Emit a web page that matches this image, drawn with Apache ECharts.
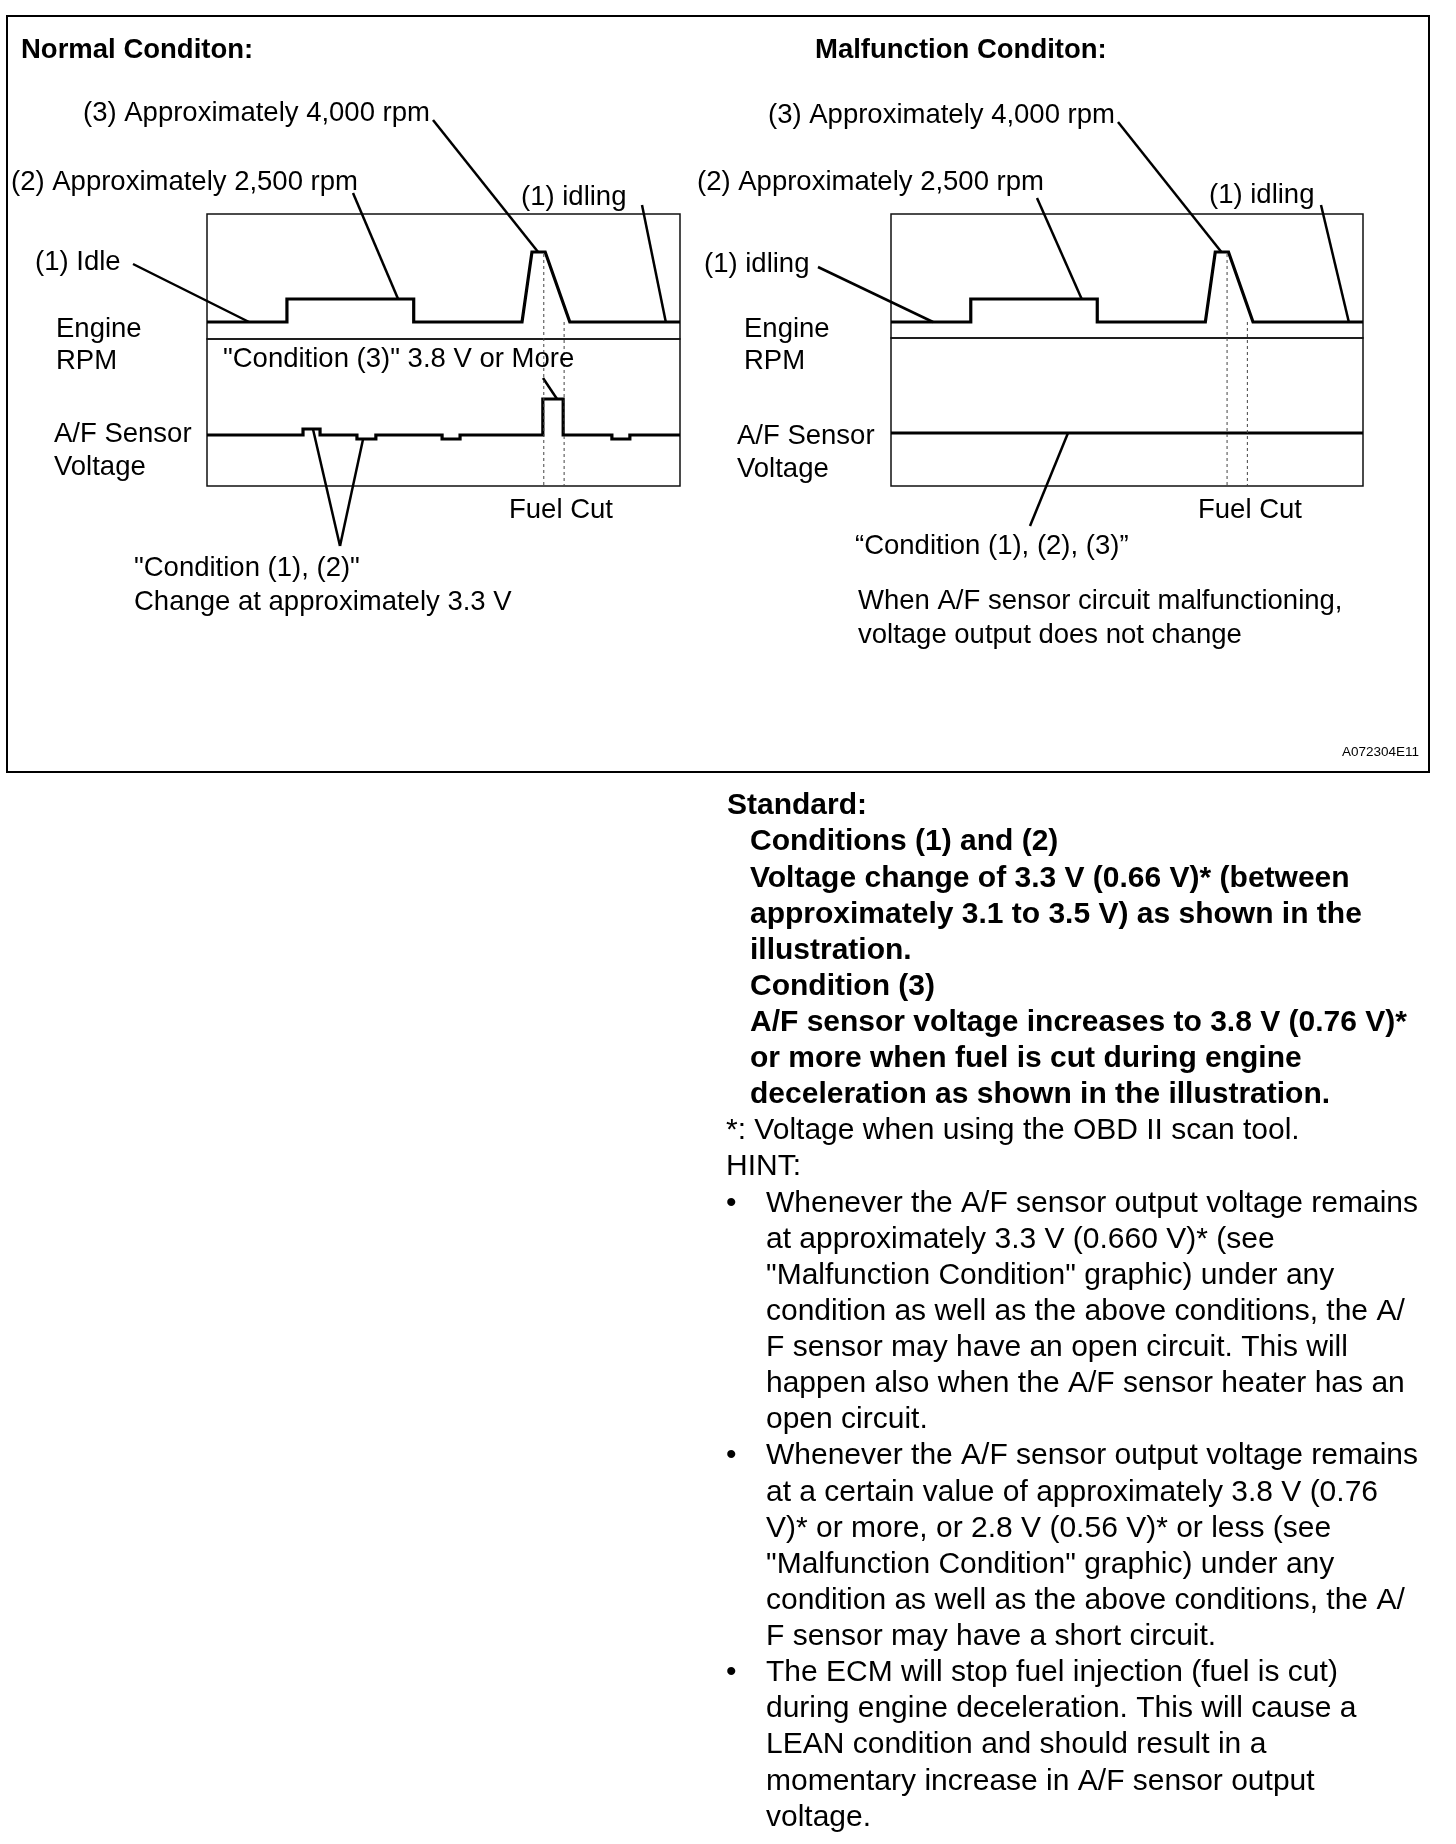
<!DOCTYPE html>
<html>
<head>
<meta charset="utf-8">
<title>A/F Sensor Voltage - Normal / Malfunction</title>
<script src="https://cdn.jsdelivr.net/npm/echarts@6/dist/echarts.min.js"></script>
<style>
html, body { margin: 0; padding: 0; background: #fff; }
#chart { width: 1456px; height: 1844px; }
</style>
</head>
<body>
<div id="chart"></div>
<script>
// time runs 0..100 across each box, levels are the schematic heights as drawn
const rpmTrace = [[0, 0], [16.9, 0], [16.9, 23], [43.7, 23], [43.7, 0], [66.6, 0],
  [68.7, 70], [71.5, 70], [76.7, 0], [100, 0]]
const afNormal = [[0, 0], [20.3, 0], [20.3, 6], [23.9, 6], [23.9, 0], [31.7, 0], [31.7, -4],
  [35.7, -4], [35.7, 0], [49.7, 0], [49.7, -4], [53.5, -4], [53.5, 0], [71.0, 0], [71.0, 36],
  [75.3, 36], [75.3, 0], [85.6, 0], [85.6, -4], [89.4, -4], [89.4, 0], [100, 0]]
const afMalfunction = [[0, 0], [100, 0]]
const fuelCutTimes = [71.2, 75.5]
// points on the traces that the callouts point at
const rpmPeak = [70, 70]
const rpm2500 = [40.4, 23]
const idleStart = [8.9, 0]
const idleEnd = [97, 0]
const afCutPeak = [74, 36]
const afBump = [22.4, 6]
const afDip = [33, -4]
const afFlat = [37.5, 0]

const hint1 = ['Whenever the A/F sensor output voltage remains',
  'at approximately 3.3 V (0.660 V)* (see',
  '"Malfunction Condition" graphic) under any',
  'condition as well as the above conditions, the A/',
  'F sensor may have an open circuit. This will',
  'happen also when the A/F sensor heater has an',
  'open circuit.']
const hint2 = ['Whenever the A/F sensor output voltage remains',
  'at a certain value of approximately 3.8 V (0.76',
  'V)* or more, or 2.8 V (0.56 V)* or less (see',
  '"Malfunction Condition" graphic) under any',
  'condition as well as the above conditions, the A/',
  'F sensor may have a short circuit.']
const hint3 = ['The ECM will stop fuel injection (fuel is cut)',
  'during engine deceleration. This will cause a',
  'LEAN condition and should result in a',
  'momentary increase in A/F sensor output',
  'voltage.']
const standardLines = ['Conditions (1) and (2)',
  'Voltage change of 3.3 V (0.66 V)* (between',
  'approximately 3.1 to 3.5 V) as shown in the',
  'illustration.',
  'Condition (3)',
  'A/F sensor voltage increases to 3.8 V (0.76 V)*',
  'or more when fuel is cut during engine',
  'deceleration as shown in the illustration.']

const FONT = "'Liberation Sans', Arial, Helvetica, sans-serif"
const chart = echarts.init(document.getElementById('chart'))

function grid(left, top, width, height) {
  return { left, top, width, height, show: true, borderColor: '#111', borderWidth: 1.5, backgroundColor: 'transparent' }
}
function xAx(i) {
  return { type: 'value', gridIndex: i, min: 0, max: 100, show: false }
}
function yAx(i, min, max) {
  return { type: 'value', gridIndex: i, min, max, show: false, splitLine: { show: false } }
}
function trace(i, data) {
  return {
    type: 'line', xAxisIndex: i, yAxisIndex: i, data, symbol: 'none', silent: true,
    lineStyle: { color: '#000', width: 3.2, join: 'miter' }, animation: false
  }
}

chart.setOption({
  animation: false,
  backgroundColor: '#fff',
  grid: [grid(207, 214, 473, 125), grid(207, 339, 473, 147), grid(891, 214, 472, 124), grid(891, 338, 472, 148)],
  xAxis: [xAx(0), xAx(1), xAx(2), xAx(3)],
  yAxis: [yAx(0, -17, 108), yAx(1, -51, 96), yAx(2, -16, 108), yAx(3, -53, 95)],
  series: [trace(0, rpmTrace), trace(1, afNormal), trace(2, rpmTrace), trace(3, afMalfunction)]
})

const px = (g, p) => chart.convertToPixel({ gridIndex: g }, p)

function txt(s, x, y, size, bold, align) {
  const f = (bold ? 'bold ' : '') + size + 'px ' + FONT
  return {
    type: 'text', x, y, silent: true, z: 10,
    style: { text: s, font: f, fill: '#000', textAlign: align || 'left', align: align || 'left', textVerticalAlign: 'middle', verticalAlign: 'middle' }
  }
}
function seg(a, b, w, dash, color) {
  return {
    type: 'line', silent: true, z: 9,
    shape: { x1: a[0], y1: a[1], x2: b[0], y2: b[1] },
    style: { stroke: color || '#000', lineWidth: w, lineDash: dash || null }
  }
}

const g = []
// outer frame
g.push({ type: 'rect', silent: true, z: 1, shape: { x: 7, y: 16, width: 1422, height: 756 },
  style: { fill: 'none', stroke: '#000', lineWidth: 2 } })

const S = 27.5
const LW = 2.5
// normal condition panel
g.push(txt('Normal Conditon:', 21, 50, S, true))
g.push(txt('(3) Approximately 4,000 rpm', 83, 113, S))
g.push(txt('(2) Approximately 2,500 rpm', 11, 182, S))
g.push(txt('(1) idling', 521, 197, S))
g.push(txt('(1) Idle', 35, 262, S))
g.push(txt('Engine', 56, 329, S))
g.push(txt('RPM', 56, 361, S))
g.push(txt('"Condition (3)" 3.8 V or More', 223, 359, S))
g.push(txt('A/F Sensor', 54, 434, S))
g.push(txt('Voltage', 54, 467, S))
g.push(txt('Fuel Cut', 509, 510, S))
g.push(txt('"Condition (1), (2)"', 134, 568, S))
g.push(txt('Change at approximately 3.3 V', 134, 602, S))

g.push(seg([433, 120], px(0, rpmPeak), LW))
g.push(seg([353, 193], px(0, rpm2500), LW))
g.push(seg([642, 205], px(0, idleEnd), LW))
g.push(seg([133, 264], px(0, idleStart), LW))
g.push(seg([543, 378], px(1, afCutPeak), LW))
g.push(seg([340, 546], px(1, afBump), LW))
g.push(seg([340, 546], px(1, afDip), LW))

// malfunction condition panel
g.push(txt('Malfunction Conditon:', 815, 50, S, true))
g.push(txt('(3) Approximately 4,000 rpm', 768, 115, S))
g.push(txt('(2) Approximately 2,500 rpm', 697, 182, S))
g.push(txt('(1) idling', 1209, 195, S))
g.push(txt('(1) idling', 704, 264, S))
g.push(txt('Engine', 744, 329, S))
g.push(txt('RPM', 744, 361, S))
g.push(txt('A/F Sensor', 737, 436, S))
g.push(txt('Voltage', 737, 469, S))
g.push(txt('Fuel Cut', 1198, 510, S))
g.push(txt('\u201CCondition (1), (2), (3)\u201D', 855, 546, S))
g.push(txt('When A/F sensor circuit malfunctioning,', 858, 601, S))
g.push(txt('voltage output does not change', 858, 635, S))
g.push(txt('A072304E11', 1342, 752, 13.5))

g.push(seg([1118, 122], px(2, rpmPeak), LW))
g.push(seg([1037, 198], px(2, rpm2500), LW))
g.push(seg([1321, 205], px(2, idleEnd), LW))
g.push(seg([818, 267], px(2, idleStart), LW))
g.push(seg([1030, 526], px(3, afFlat), LW))

// fuel cut dashed markers, from the rpm trace down through the A/F box
;[[0, 1], [2, 3]].forEach(([rg, ag]) => {
  const yBot = ag === 1 ? -51 : -53
  const a = px(rg, [fuelCutTimes[0], 68])
  const b = px(ag, [fuelCutTimes[0], yBot])
  g.push(seg(a, b, 1, [3, 3], '#444'))
  const c = px(rg, [fuelCutTimes[1], 0])
  const d = px(ag, [fuelCutTimes[1], yBot])
  g.push(seg(c, d, 1, [3, 3], '#444'))
})

// standard and hint text
const LH = 36.12
let row = 0
const rowY = () => 806 + LH * row
g.push(txt('Standard:', 727, rowY(), 30, true)); row++
standardLines.forEach(s => { g.push(txt(s, 750, rowY(), 30, true)); row++ })
g.push(txt('*: Voltage when using the OBD II scan tool.', 726, rowY(), 30)); row++
g.push(txt('HINT:', 726, rowY(), 30)); row++
;[hint1, hint2, hint3].forEach(lines => {
  g.push(txt('\u2022', 726, rowY(), 30))
  lines.forEach(s => { g.push(txt(s, 766, rowY(), 30)); row++ })
})

chart.setOption({ graphic: { elements: g } })
</script>
</body>
</html>
